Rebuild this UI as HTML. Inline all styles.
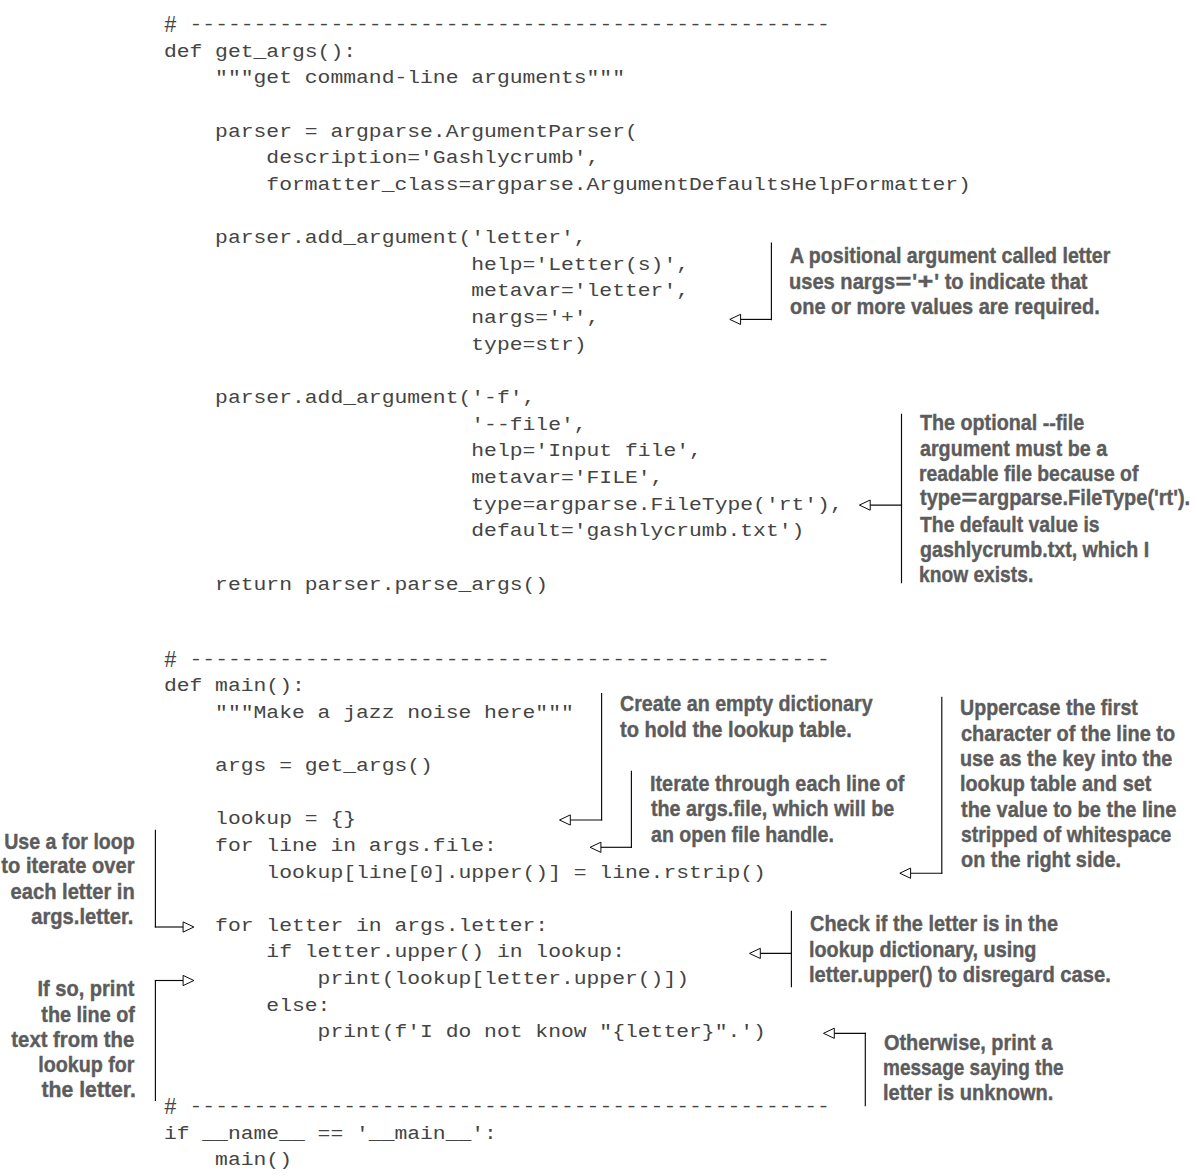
<!DOCTYPE html>
<html><head><meta charset="utf-8"><style>
html,body{margin:0;padding:0;background:#fff;}
body{width:1197px;height:1176px;position:relative;overflow:hidden;}
.c{position:absolute;left:163.9px;white-space:pre;font-family:"Liberation Mono",monospace;font-size:21.35px;line-height:21.35px;color:#444;transform:scaleY(0.84);transform-origin:0 16.36px;}
.h{display:inline-block;transform:translateY(1px) scale(1,1.3);transform-origin:50% 55%;}
.a{position:absolute;white-space:pre;font-family:"Liberation Sans",sans-serif;font-weight:bold;font-size:22.0px;line-height:22.0px;color:#5c5c5c;transform-origin:0 0;letter-spacing:0px;-webkit-text-stroke:0.4px #5c5c5c;}
.eq{display:inline-block;transform:scaleX(1.35);margin:0 3px;}
.a.r{transform-origin:100% 0;}
</style></head><body>
<div class="c" style="top:13.99px"><span class="h">#</span> --------------------------------------------------</div>
<div class="c" style="top:40.64px">def get_args():</div>
<div class="c" style="top:67.29px">    &quot;&quot;&quot;get command-line arguments&quot;&quot;&quot;</div>
<div class="c" style="top:120.59px">    parser = argparse.ArgumentParser(</div>
<div class="c" style="top:147.24px">        description=&#x27;Gashlycrumb&#x27;,</div>
<div class="c" style="top:173.89px">        formatter_class=argparse.ArgumentDefaultsHelpFormatter)</div>
<div class="c" style="top:227.19px">    parser.add_argument(&#x27;letter&#x27;,</div>
<div class="c" style="top:253.84px">                        help=&#x27;Letter(s)&#x27;,</div>
<div class="c" style="top:280.49px">                        metavar=&#x27;letter&#x27;,</div>
<div class="c" style="top:307.14px">                        nargs=&#x27;+&#x27;,</div>
<div class="c" style="top:333.79px">                        type=str)</div>
<div class="c" style="top:387.09px">    parser.add_argument(&#x27;-f&#x27;,</div>
<div class="c" style="top:413.74px">                        &#x27;--file&#x27;,</div>
<div class="c" style="top:440.39px">                        help=&#x27;Input file&#x27;,</div>
<div class="c" style="top:467.04px">                        metavar=&#x27;FILE&#x27;,</div>
<div class="c" style="top:493.69px">                        type=argparse.FileType(&#x27;rt&#x27;),</div>
<div class="c" style="top:520.34px">                        default=&#x27;gashlycrumb.txt&#x27;)</div>
<div class="c" style="top:573.64px">    return parser.parse_args()</div>
<div class="c" style="top:648.62px"><span class="h">#</span> --------------------------------------------------</div>
<div class="c" style="top:675.24px">def main():</div>
<div class="c" style="top:701.86px">    &quot;&quot;&quot;Make a jazz noise here&quot;&quot;&quot;</div>
<div class="c" style="top:755.10px">    args = get_args()</div>
<div class="c" style="top:808.34px">    lookup = {}</div>
<div class="c" style="top:834.96px">    for line in args.file:</div>
<div class="c" style="top:861.58px">        lookup[line[0].upper()] = line.rstrip()</div>
<div class="c" style="top:914.82px">    for letter in args.letter:</div>
<div class="c" style="top:941.44px">        if letter.upper() in lookup:</div>
<div class="c" style="top:968.06px">            print(lookup[letter.upper()])</div>
<div class="c" style="top:994.68px">        else:</div>
<div class="c" style="top:1021.30px">            print(f&#x27;I do not know &quot;{letter}&quot;.&#x27;)</div>
<div class="c" style="top:1096.24px"><span class="h">#</span> --------------------------------------------------</div>
<div class="c" style="top:1122.74px">if __name__ == &#x27;__main__&#x27;:</div>
<div class="c" style="top:1149.24px">    main()</div>
<svg width="1197" height="1176" viewBox="0 0 1197 1176" style="position:absolute;left:0;top:0"><line x1="771.4" y1="243.1" x2="771.4" y2="319.6" stroke="#0a0a0a" stroke-width="1.15" stroke-linecap="square"/><line x1="771.4" y1="319.4" x2="740.6" y2="319.4" stroke="#0a0a0a" stroke-width="1.15" stroke-linecap="square"/><path d="M729.8 319.4 L740.6 314.3 L740.6 324.5 Z" fill="#fff" stroke="#0a0a0a" stroke-width="1.0" stroke-linejoin="miter"/><line x1="901.5" y1="414.3" x2="901.5" y2="582.7" stroke="#0a0a0a" stroke-width="1.15" stroke-linecap="square"/><line x1="901.5" y1="505.1" x2="870.2" y2="505.1" stroke="#0a0a0a" stroke-width="1.15" stroke-linecap="square"/><path d="M859.4 505.1 L870.2 500.0 L870.2 510.2 Z" fill="#fff" stroke="#0a0a0a" stroke-width="1.0" stroke-linejoin="miter"/><line x1="601.6" y1="693.5" x2="601.6" y2="820" stroke="#0a0a0a" stroke-width="1.15" stroke-linecap="square"/><line x1="601.6" y1="820" x2="570.3" y2="820" stroke="#0a0a0a" stroke-width="1.15" stroke-linecap="square"/><path d="M559.5 820.0 L570.3 814.9 L570.3 825.1 Z" fill="#fff" stroke="#0a0a0a" stroke-width="1.0" stroke-linejoin="miter"/><line x1="631.4" y1="771.4" x2="631.4" y2="847.3" stroke="#0a0a0a" stroke-width="1.15" stroke-linecap="square"/><line x1="631.4" y1="847.3" x2="600.9" y2="847.3" stroke="#0a0a0a" stroke-width="1.15" stroke-linecap="square"/><path d="M590.1 847.3 L600.9 842.2 L600.9 852.4 Z" fill="#fff" stroke="#0a0a0a" stroke-width="1.0" stroke-linejoin="miter"/><line x1="941.8" y1="697.3" x2="941.8" y2="873.2" stroke="#0a0a0a" stroke-width="1.15" stroke-linecap="square"/><line x1="941.8" y1="873.2" x2="910.6" y2="873.2" stroke="#0a0a0a" stroke-width="1.15" stroke-linecap="square"/><path d="M899.8 873.2 L910.6 868.1 L910.6 878.3 Z" fill="#fff" stroke="#0a0a0a" stroke-width="1.0" stroke-linejoin="miter"/><line x1="155.4" y1="830.2" x2="155.4" y2="927" stroke="#0a0a0a" stroke-width="1.15" stroke-linecap="square"/><line x1="155.4" y1="927" x2="183.1" y2="927" stroke="#0a0a0a" stroke-width="1.15" stroke-linecap="square"/><path d="M193.9 927.0 L183.1 921.9 L183.1 932.1 Z" fill="#fff" stroke="#0a0a0a" stroke-width="1.0" stroke-linejoin="miter"/><line x1="155.4" y1="980.5" x2="155.4" y2="1100.4" stroke="#0a0a0a" stroke-width="1.15" stroke-linecap="square"/><line x1="155.4" y1="980.5" x2="183.1" y2="980.5" stroke="#0a0a0a" stroke-width="1.15" stroke-linecap="square"/><path d="M193.9 980.5 L183.1 975.4 L183.1 985.6 Z" fill="#fff" stroke="#0a0a0a" stroke-width="1.0" stroke-linejoin="miter"/><line x1="791.4" y1="911.2" x2="791.4" y2="986.7" stroke="#0a0a0a" stroke-width="1.15" stroke-linecap="square"/><line x1="791.4" y1="953.4" x2="760.3" y2="953.4" stroke="#0a0a0a" stroke-width="1.15" stroke-linecap="square"/><path d="M749.5 953.4 L760.3 948.3 L760.3 958.5 Z" fill="#fff" stroke="#0a0a0a" stroke-width="1.0" stroke-linejoin="miter"/><line x1="865.3" y1="1033.3" x2="865.3" y2="1105.7" stroke="#0a0a0a" stroke-width="1.15" stroke-linecap="square"/><line x1="865.3" y1="1033.3" x2="834.3" y2="1033.3" stroke="#0a0a0a" stroke-width="1.15" stroke-linecap="square"/><path d="M823.5 1033.3 L834.3 1028.2 L834.3 1038.4 Z" fill="#fff" stroke="#0a0a0a" stroke-width="1.0" stroke-linejoin="miter"/></svg>
<div class="a" id="A0" style="top:244.87px;left:789.50px;transform:scaleX(0.8904)">A positional argument called letter</div>
<div class="a" id="A1" style="top:270.87px;left:789.00px;transform:scaleX(0.9131)">uses nargs<span class="eq">=</span>&#x27;<span class="eq">+</span>&#x27; to indicate that</div>
<div class="a" id="A2" style="top:295.97px;left:790.00px;transform:scaleX(0.9079)">one or more values are required.</div>
<div class="a" id="B0" style="top:411.87px;left:920.00px;transform:scaleX(0.8960)">The optional --file</div>
<div class="a" id="B1" style="top:437.87px;left:920.00px;transform:scaleX(0.8952)">argument must be a</div>
<div class="a" id="B2" style="top:462.87px;left:919.00px;transform:scaleX(0.8795)">readable file because of</div>
<div class="a" id="B3" style="top:487.37px;left:920.00px;transform:scaleX(0.9068)">type<span class="eq">=</span>argparse.FileType(&#x27;rt&#x27;).</div>
<div class="a" id="B4" style="top:514.17px;left:920.00px;transform:scaleX(0.8794)">The default value is</div>
<div class="a" id="B5" style="top:539.17px;left:920.00px;transform:scaleX(0.8926)">gashlycrumb.txt, which I</div>
<div class="a" id="B6" style="top:563.97px;left:919.00px;transform:scaleX(0.8730)">know exists.</div>
<div class="a" id="C0" style="top:692.87px;left:620.00px;transform:scaleX(0.8945)">Create an empty dictionary</div>
<div class="a" id="C1" style="top:718.87px;left:620.00px;transform:scaleX(0.9117)">to hold the lookup table.</div>
<div class="a" id="D0" style="top:772.77px;left:649.50px;transform:scaleX(0.9010)">Iterate through each line of</div>
<div class="a" id="D1" style="top:798.47px;left:650.50px;transform:scaleX(0.8964)">the args.file, which will be</div>
<div class="a" id="D2" style="top:824.07px;left:650.50px;transform:scaleX(0.8906)">an open file handle.</div>
<div class="a" id="E0" style="top:696.77px;left:959.50px;transform:scaleX(0.8927)">Uppercase the first</div>
<div class="a" id="E1" style="top:722.97px;left:960.50px;transform:scaleX(0.9076)">character of the line to</div>
<div class="a" id="E2" style="top:747.97px;left:959.50px;transform:scaleX(0.8996)">use as the key into the</div>
<div class="a" id="E3" style="top:772.97px;left:959.50px;transform:scaleX(0.8993)">lookup table and set</div>
<div class="a" id="E4" style="top:798.87px;left:960.50px;transform:scaleX(0.9084)">the value to be the line</div>
<div class="a" id="E5" style="top:823.87px;left:960.50px;transform:scaleX(0.8826)">stripped of whitespace</div>
<div class="a" id="E6" style="top:848.87px;left:960.50px;transform:scaleX(0.9036)">on the right side.</div>
<div class="a r" id="F0" style="top:830.67px;right:1062.00px;transform:scaleX(0.8895)">Use a for loop</div>
<div class="a r" id="F1" style="top:855.27px;right:1063.00px;transform:scaleX(0.9150)">to iterate over</div>
<div class="a r" id="F2" style="top:880.67px;right:1062.00px;transform:scaleX(0.9146)">each letter in</div>
<div class="a r" id="F3" style="top:906.17px;right:1063.50px;transform:scaleX(0.9171)">args.letter.</div>
<div class="a r" id="G0" style="top:977.87px;right:1062.50px;transform:scaleX(0.9112)">If so, print</div>
<div class="a r" id="G1" style="top:1003.67px;right:1062.50px;transform:scaleX(0.9009)">the line of</div>
<div class="a r" id="G2" style="top:1028.57px;right:1062.50px;transform:scaleX(0.9222)">text from the</div>
<div class="a r" id="G3" style="top:1053.67px;right:1062.50px;transform:scaleX(0.8960)">lookup for</div>
<div class="a r" id="G4" style="top:1078.77px;right:1061.50px;transform:scaleX(0.9642)">the letter.</div>
<div class="a" id="H0" style="top:912.87px;left:810.00px;transform:scaleX(0.9056)">Check if the letter is in the</div>
<div class="a" id="H1" style="top:938.87px;left:809.00px;transform:scaleX(0.9001)">lookup dictionary, using</div>
<div class="a" id="H2" style="top:963.97px;left:809.00px;transform:scaleX(0.9180)">letter.upper() to disregard case.</div>
<div class="a" id="I0" style="top:1032.07px;left:884.00px;transform:scaleX(0.9052)">Otherwise, print a</div>
<div class="a" id="I1" style="top:1056.87px;left:883.00px;transform:scaleX(0.8635)">message saying the</div>
<div class="a" id="I2" style="top:1081.97px;left:883.00px;transform:scaleX(0.9106)">letter is unknown.</div>
</body></html>
